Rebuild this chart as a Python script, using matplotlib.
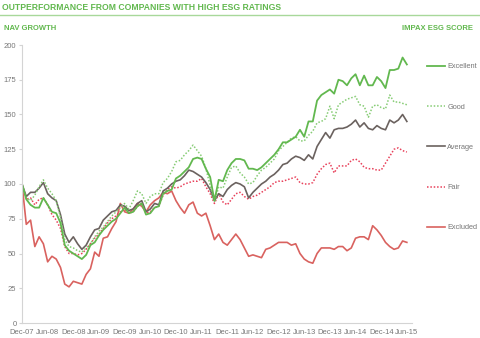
import matplotlib
matplotlib.use("Agg")
import matplotlib.pyplot as plt
import numpy as np

plt.rcParams["font.family"] = ["Liberation Sans Narrow", "Liberation Sans", "DejaVu Sans"]

# monthly index values, Dec-07 .. Jun-15
excellent = [100, 89, 85, 83, 83, 90, 85, 80, 79, 72, 56, 52, 50, 48, 46, 49, 56, 58, 63, 67,
             70, 73, 75, 79, 83, 79, 80, 84, 86, 78, 79, 83, 84, 93, 95, 96, 104, 106, 109, 112,
             118, 119, 118, 111, 105, 88, 103, 102, 110, 115, 118, 118, 117, 111, 111, 110, 112, 115, 118, 121,
             125, 130, 130, 132, 134, 139, 134, 145, 145, 160, 164, 166, 168, 165, 175, 174, 171, 176, 179, 171,
             178, 171, 171, 177, 174, 169, 182, 182, 183, 191, 186]
good = [100, 90, 88, 92, 98, 103, 97, 93, 88, 76, 60, 55, 54, 52, 51, 54, 57, 62, 66, 69,
        73, 77, 80, 83, 86, 82, 88, 95, 93, 86, 91, 93, 93, 101, 104, 109, 116, 117, 121, 124,
        128, 124, 120, 111, 99, 87, 98, 97, 105, 112, 113, 108, 105, 100, 101, 106, 110, 112, 115, 118,
        124, 127, 130, 133, 134, 131, 131, 135, 138, 144, 145, 147, 156, 147, 157, 159, 161, 162, 163, 157,
        156, 148, 156, 157, 155, 154, 164, 159, 159, 158, 157]
average = [100, 91, 94, 94, 97, 101, 93, 90, 88, 78, 64, 58, 62, 57, 53, 56, 62, 67, 68, 74,
           77, 80, 81, 85, 84, 81, 82, 86, 88, 80, 82, 86, 85, 95, 97, 100, 102, 103, 106, 110,
           109, 107, 105, 101, 96, 88, 93, 91, 96, 99, 101, 100, 98, 90, 94, 97, 100, 102, 105, 107,
           110, 114, 115, 118, 120, 119, 117, 121, 118, 127, 132, 137, 133, 139, 140, 140, 141, 143, 146, 141,
           144, 140, 139, 142, 140, 139, 146, 144, 146, 150, 145]
fair = [100, 89, 90, 85, 89, 90, 85, 78, 74, 68, 55, 50, 50, 49, 50, 53, 57, 61, 64, 68,
        72, 75, 77, 80, 82, 79, 80, 84, 86, 79, 80, 83, 84, 92, 96, 98, 97, 98, 100, 101,
        102, 102, 104, 98, 93, 86, 93, 87, 85, 89, 93, 94, 91, 89, 91, 92, 94, 96, 98, 101,
        102, 102, 103, 104, 105, 101, 100, 100, 101, 107, 111, 114, 115, 108, 113, 113, 113, 117, 118, 116,
        112, 111, 111, 110, 110, 115, 120, 125, 126, 124, 123]
excluded = [100, 71, 74, 55, 62, 57, 44, 48, 46, 40, 28, 26, 30, 29, 28, 35, 39, 51, 48, 61,
            62, 68, 73, 86, 80, 79, 82, 86, 84, 80, 85, 88, 90, 94, 93, 95, 88, 83, 79, 85,
            87, 79, 77, 79, 70, 60, 64, 58, 56, 60, 64, 60, 54, 48, 49, 48, 47, 53, 54, 56,
            58, 58, 58, 56, 57, 50, 46, 44, 43, 50, 54, 54, 54, 53, 55, 55, 52, 54, 61, 62,
            62, 60, 70, 67, 63, 58, 55, 53, 54, 59, 58]

tick_labels = ["Dec-07", "Jun-08", "Dec-08", "Jun-09", "Dec-09", "Jun-10", "Dec-10", "Jun-11",
               "Dec-11", "Jun-12", "Dec-12", "Jun-13", "Dec-13", "Jun-14", "Dec-14", "Jun-15"]

months = np.arange(len(excellent))

green = "#62b84f"
fig = plt.figure(figsize=(4.8, 3.38), dpi=100)
ax = fig.add_axes([22 / 480, 15 / 338, 390 / 480, 278 / 338])

ax.plot(months, excluded, color="#d9625f", lw=1.2, label="Excluded")
ax.plot(months, fair, color="#e8405a", lw=1.1, ls=(0, (1, 1.2)), label="Fair")
ax.plot(months, average, color="#6b625f", lw=1.2, label="Average")
ax.plot(months, good, color="#86cc74", lw=1.1, ls=(0, (1, 1.2)), label="Good")
ax.plot(months, excellent, color=green, lw=1.3, label="Excellent")

ax.set_xlim(0, 91.2)
ax.set_ylim(0, 200)
ax.set_yticks(range(0, 201, 25))
ax.set_xticks(range(0, 91, 6))
ax.set_xticklabels(tick_labels)
for s in ["top", "right"]:
    ax.spines[s].set_visible(False)
for s in ["left", "bottom"]:
    ax.spines[s].set_color("#d4d4d4")
    ax.spines[s].set_linewidth(0.8)
ax.tick_params(axis="y", length=2, color="#d4d4d4", labelsize=5.5, labelcolor="#777777", pad=2)
ax.tick_params(axis="x", length=0, labelsize=5.5, labelcolor="#777777", pad=4)

handles, labels = ax.get_legend_handles_labels()
leg = ax.legend(handles[::-1], labels[::-1], loc="upper left", bbox_to_anchor=(1.03, 0.945),
                frameon=False, fontsize=5.3, handlelength=2.5, handletextpad=0.3,
                labelspacing=4.5, borderaxespad=0)
for t in leg.get_texts():
    t.set_color("#777777")

fig.text(0.004, 0.978, "OUTPERFORMANCE FROM COMPANIES WITH HIGH ESG RATINGS", color=green,
         fontsize=6.2, fontweight="bold", va="center", ha="left")
fig.add_artist(plt.Line2D([0, 1], [0.955, 0.955], color="#a8d89a", lw=1.0))
fig.text(0.008, 0.917, "NAV GROWTH", color=green, fontsize=5.5, fontweight="bold", va="center")
fig.text(0.838, 0.917, "IMPAX ESG SCORE", color=green, fontsize=5.5, fontweight="bold", va="center")

fig.savefig("out.png", dpi=100)
